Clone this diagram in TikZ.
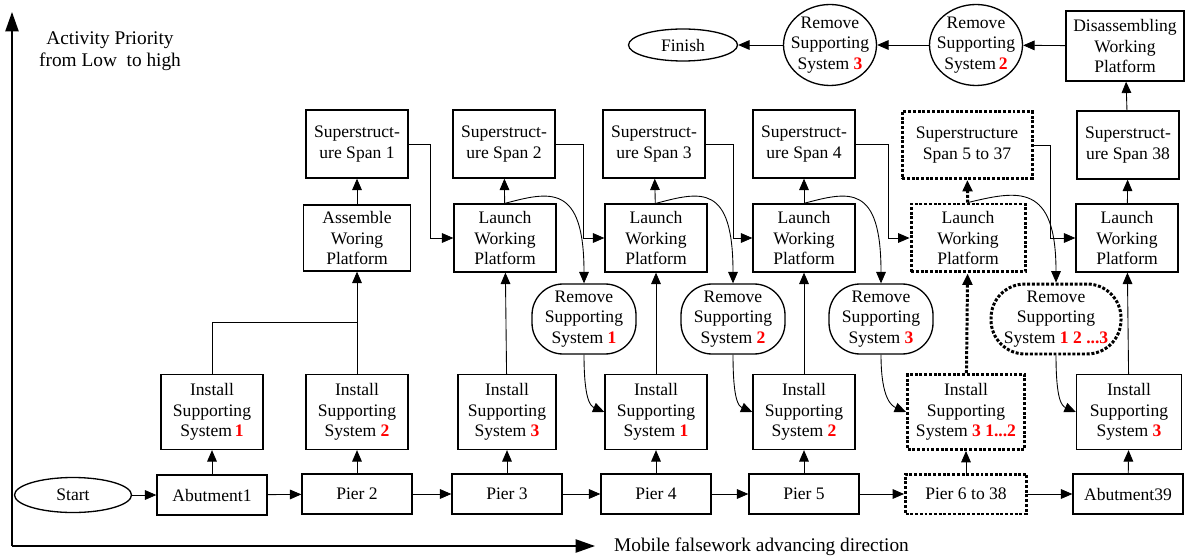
\documentclass[tikz,border=0pt]{standalone}
\usepackage{fontspec}
\setmainfont{Liberation Serif}
\usetikzlibrary{arrows.meta,shapes.geometric}
\newcommand{\rednum}[1]{\textcolor{red}{\textbf{#1}}}
\begin{document}
\begin{tikzpicture}[x=0.02cm,y=-0.02cm,font=\fontsize{10}{11.6}\selectfont,>={Triangle[length=6.5pt,width=5.5pt]},
box/.style={draw,line width=0.75pt,align=center,inner sep=0pt,minimum width=2.04cm,minimum height=1.36cm},
pier/.style={box,minimum width=2.2cm,minimum height=0.8cm},
inst/.style={box,minimum height=1.5cm},
oval/.style={ellipse,draw,line width=0.75pt,align=center,inner sep=-1cm,minimum width=2.08cm,minimum height=1.4cm},
rmv/.style={box,rounded corners=0.62cm,minimum width=2.08cm,minimum height=1.4cm},
dots/.style={line width=1.7pt,dash pattern=on 1.7pt off 1pt},
link/.style={line width=0.5pt,->},
axis/.style={line width=0.9pt,-{Triangle[length=11pt,width=7.5pt]}}]
\useasboundingbox (0,0) rectangle (1185,560);
\coordinate (o) at (12,546);
\draw[axis] (o) -- (12,12);
\draw[axis] (o) -- (595,546);
\node[align=center,font=\fontsize{11}{12.5}\selectfont] (ylab) at (110,51) {Activity Priority\\from Low\ \ to high};
\node[anchor=west,font=\fontsize{11}{12.5}\selectfont] (xlab) at (608,547) {Mobile falsework advancing direction};
\node[oval,minimum width=2.34cm,minimum height=0.7cm] (st) at (73,495) {Start};
\node[pier] (ab1) at (212,495) {Abutment1};
\node[pier] (p2) at (357,494) {Pier 2};
\node[pier] (p3) at (507,494) {Pier 3};
\node[pier] (p4) at (656,494) {Pier 4};
\node[pier] (p5) at (804,494) {Pier 5};
\node[pier,dots,minimum width=2.42cm] (p6) at (966,494) {Pier 6 to 38};
\node[pier] (ab39) at (1128,494) {Abutment39};
\node[inst] (is1) at (212,412) {Install\\Supporting\\System\,\rednum{1}};
\node[inst] (is2) at (357,412) {Install\\Supporting\\System \rednum{2}};
\node[inst,minimum width=1.96cm] (is3) at (507,412) {Install\\Supporting\\System \rednum{3}};
\node[inst] (is4) at (656,412) {Install\\Supporting\\System \rednum{1}};
\node[inst] (is5) at (804,412) {Install\\Supporting\\System \rednum{2}};
\node[inst,dots,minimum width=2.34cm] (is6) at (966,412) {Install\\Supporting\\System \rednum{3 1...2}};
\node[inst,minimum width=2.1cm] (is7) at (1129,412) {Install\\Supporting\\System \rednum{3}};
\node[rmv] (rm1) at (584,319) {Remove\\Supporting\\System \rednum{1}};
\node[rmv] (rm2) at (733,319) {Remove\\Supporting\\System \rednum{2}};
\node[rmv] (rm3) at (881,319) {Remove\\Supporting\\System \rednum{3}};
\node[rmv,dots,rounded corners=0.68cm,minimum width=2.6cm] (rm6) at (1056,319) {Remove\\Supporting\\System \rednum{1 2 ...3}};
\node[box,minimum width=2.14cm,minimum height=1.32cm] (as1) at (357,238) {Assemble\\Woring\\Platform};
\node[box] (lw2) at (505,238) {Launch\\Working\\Platform};
\node[box] (lw3) at (656,238) {Launch\\Working\\Platform};
\node[box] (lw4) at (804,238) {Launch\\Working\\Platform};
\node[box,dots,minimum width=2.28cm] (lw5) at (968,238) {Launch\\Working\\Platform};
\node[box] (lw38) at (1127,238) {Launch\\Working\\Platform};
\node[box] (ss1) at (357,144) {Superstruct-\\ure Span 1};
\node[box] (ss2) at (504,144) {Superstruct-\\ure Span 2};
\node[box] (ss3) at (654,144) {Superstruct-\\ure Span 3};
\node[box] (ss4) at (804,144) {Superstruct-\\ure Span 4};
\node[box,dots,minimum width=2.6cm,minimum height=1.34cm] (ss5) at (967,145) {Superstructure\\Span 5 to 37};
\node[box] (ss38) at (1128,145) {Superstruct-\\ure Span 38};
\node[box,minimum width=2.36cm,minimum height=1.4cm] (dis) at (1125,46) {Disassembling\\Working\\Platform};
\node[oval,minimum width=1.86cm,minimum height=1.62cm] (rt2) at (976,45) {Remove\\Supporting\\System\,\rednum{2}};
\node[oval,minimum width=1.86cm,minimum height=1.62cm] (rt3) at (830,45) {Remove\\Supporting\\System \rednum{3}};
\node[oval,minimum width=2.18cm,minimum height=0.64cm] (fin) at (683,45) {Finish};
\draw[link] (st) -- (ab1);
\draw[link] (ab1) -- (p2);
\draw[link] (p2) -- (p3);
\draw[link] (p3) -- (p4);
\draw[link] (p4) -- (p5);
\draw[link] (p5) -- (p6);
\draw[link] (p6) -- (ab39);
\draw[link] (ab1) -- (is1);
\draw[link] (p2) -- (is2);
\draw[link] (p3) -- (is3);
\draw[link] (p4) -- (is4);
\draw[link] (p5) -- (is5);
\draw[link] (p6) -- (is6);
\draw[link] (ab39) -- (is7);
\coordinate (j1) at (357,322);
\draw[line width=0.5pt] (is1) |- (j1);
\draw[link] (is2) -- (as1);
\draw[link] (is3) -- (lw2);
\draw[link] (is4) -- (lw3);
\draw[link] (is5) -- (lw4);
\draw[dots,->] (is6) -- (lw5);
\draw[link] (is7) -- (lw38);
\draw[link] (as1) -- (ss1);
\draw[link] (lw2) -- (ss2);
\draw[link] (lw3) -- (ss3);
\draw[link] (lw4) -- (ss4);
\draw[dots,->] (lw5) -- (ss5);
\draw[link] (lw38) -- (ss38);
\draw[link] (ss1.east) -- ++(22,0) |- (lw2.west);
\draw[link] (ss2.east) -- ++(28,0) |- (lw3.west);
\draw[link] (ss3.east) -- ++(28,0) |- (lw4.west);
\draw[link] (ss4.east) -- ++(33,0) |- (lw5.west);
\draw[link] (ss5.east) -- ++(17,0) |- (lw38.west);
\draw[link] (lw2.north) .. controls +(45,-12) and +(0,-100) .. (rm1.north);
\draw[link] (lw3.north) .. controls +(45,-12) and +(0,-100) .. (rm2.north);
\draw[link] (lw4.north) .. controls +(45,-12) and +(0,-100) .. (rm3.north);
\draw[link] (lw5.north) .. controls +(50,-12) and +(0,-100) .. (rm6.north);
\draw[link] (rm1.south) .. controls +(0,45) and +(-14,-6) .. (is4.west);
\draw[link] (rm2.south) .. controls +(0,45) and +(-14,-6) .. (is5.west);
\draw[link] (rm3.south) .. controls +(0,45) and +(-14,-6) .. (is6.west);
\draw[link] (rm6.south) .. controls +(0,45) and +(-14,-6) .. (is7.west);
\draw[link] (ss38) -- (dis);
\draw[link] (dis) -- (rt2);
\draw[link] (rt2) -- (rt3);
\draw[link] (rt3) -- (fin);
\end{tikzpicture}
\end{document}
